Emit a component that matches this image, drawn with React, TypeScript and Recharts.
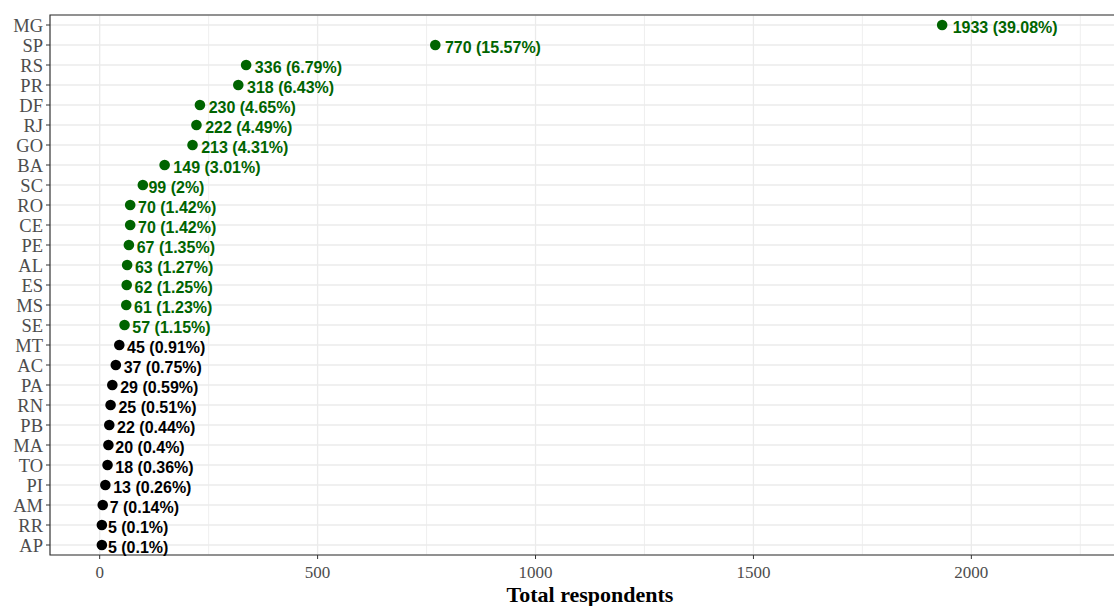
import React from "react";
import {
  ScatterChart,
  Scatter,
  XAxis,
  YAxis,
  CartesianGrid,
  ReferenceArea,
  Label,
} from "recharts";

// Brazilian states, ordered top to bottom as in the chart
const states = [
  "MG", "SP", "RS", "PR", "DF", "RJ", "GO", "BA", "SC", "RO", "CE", "PE", "AL", "ES",
  "MS", "SE", "MT", "AC", "PA", "RN", "PB", "MA", "TO", "PI", "AM", "RR", "AP",
];
const respondents = [
  1933, 770, 336, 318, 230, 222, 213, 149, 99, 70, 70, 67, 63, 62,
  61, 57, 45, 37, 29, 25, 22, 20, 18, 13, 7, 5, 5,
];
const shares = [
  "39.08%", "15.57%", "6.79%", "6.43%", "4.65%", "4.49%", "4.31%", "3.01%", "2%", "1.42%",
  "1.42%", "1.35%", "1.27%", "1.25%", "1.23%", "1.15%", "0.91%", "0.75%", "0.59%", "0.51%",
  "0.44%", "0.4%", "0.36%", "0.26%", "0.14%", "0.1%", "0.1%",
];
const xTicks = [0, 500, 1000, 1500, 2000];
const minorGrid = [250, 750, 1250, 1750, 2250];
const xDomain = [-114, 2364];

const GREEN = "#006400";
const highlightMin = 50; // states with more respondents than this are shown in green

const data = states.map((state, i) => ({
  state,
  value: respondents[i],
  share: shares[i],
  color: respondents[i] >= highlightMin ? GREEN : "#000000",
}));

const serif = "'Liberation Serif', 'Times New Roman', serif";
const sans = "'Liberation Sans', Arial, sans-serif";
const labelSize = 16;

// rough text width for Liberation Sans Bold, used for the hjust-like offset
function textWidth(s: string) {
  let w = 0;
  for (const ch of s) {
    if (/[0-9]/.test(ch)) w += 0.556;
    else if (ch === "%") w += 0.889;
    else if (ch === "(" || ch === ")") w += 0.333;
    else w += 0.278;
  }
  return w * labelSize;
}

function DotWithLabel(props: any) {
  const { cx, cy, payload } = props;
  if (cx == null || cy == null) return null;
  const text = `${payload.value} (${payload.share})`;
  return (
    <g>
      <circle cx={cx} cy={cy} r={5.3} fill={payload.color} />
      <text
        x={cx + 0.1 * textWidth(text)}
        y={cy + 7.5}
        fill={payload.color}
        fontFamily={sans}
        fontWeight="bold"
        fontSize={labelSize}
      >
        {text}
      </text>
    </g>
  );
}

export default function App() {
  return (
    <div
      style={{
        position: "absolute",
        left: 0,
        top: 0,
        width: 1114,
        height: 606,
        overflow: "hidden",
        background: "#fff",
      }}
    >
      <ScatterChart
        width={1130}
        height={606}
        margin={{ top: 15, right: 0, bottom: 0, left: 0 }}
      >
        <CartesianGrid
          horizontal={false}
          verticalValues={minorGrid}
          stroke="#ebebeb"
          strokeWidth={0.8}
        />
        <CartesianGrid verticalValues={xTicks} stroke="#ebebeb" strokeWidth={1.3} />
        <XAxis
          type="number"
          dataKey="value"
          domain={xDomain}
          ticks={xTicks}
          allowDataOverflow
          height={51}
          axisLine={false}
          tickLine={{ stroke: "#333333" }}
          tickSize={4}
          tickMargin={7}
          tick={{ fill: "#4D4D4D", fontFamily: serif, fontSize: 17 }}
        >
          <Label
            value="Total respondents"
            position="insideBottom"
            offset={4}
            style={{ fontFamily: serif, fontWeight: "bold", fontSize: 22, fill: "#000" }}
          />
        </XAxis>
        <YAxis
          type="category"
          dataKey="state"
          reversed
          width={50}
          axisLine={false}
          tickLine={{ stroke: "#333333" }}
          tickSize={4}
          tickMargin={3}
          interval={0}
          tick={{ fill: "#4D4D4D", fontFamily: serif, fontSize: 18.5 }}
        />
        <ReferenceArea
          x1={xDomain[0]}
          x2={xDomain[1]}
          fill="none"
          stroke="#333333"
          strokeWidth={1.2}
        />
        <Scatter data={data} isAnimationActive={false} shape={DotWithLabel} />
      </ScatterChart>
    </div>
  );
}
